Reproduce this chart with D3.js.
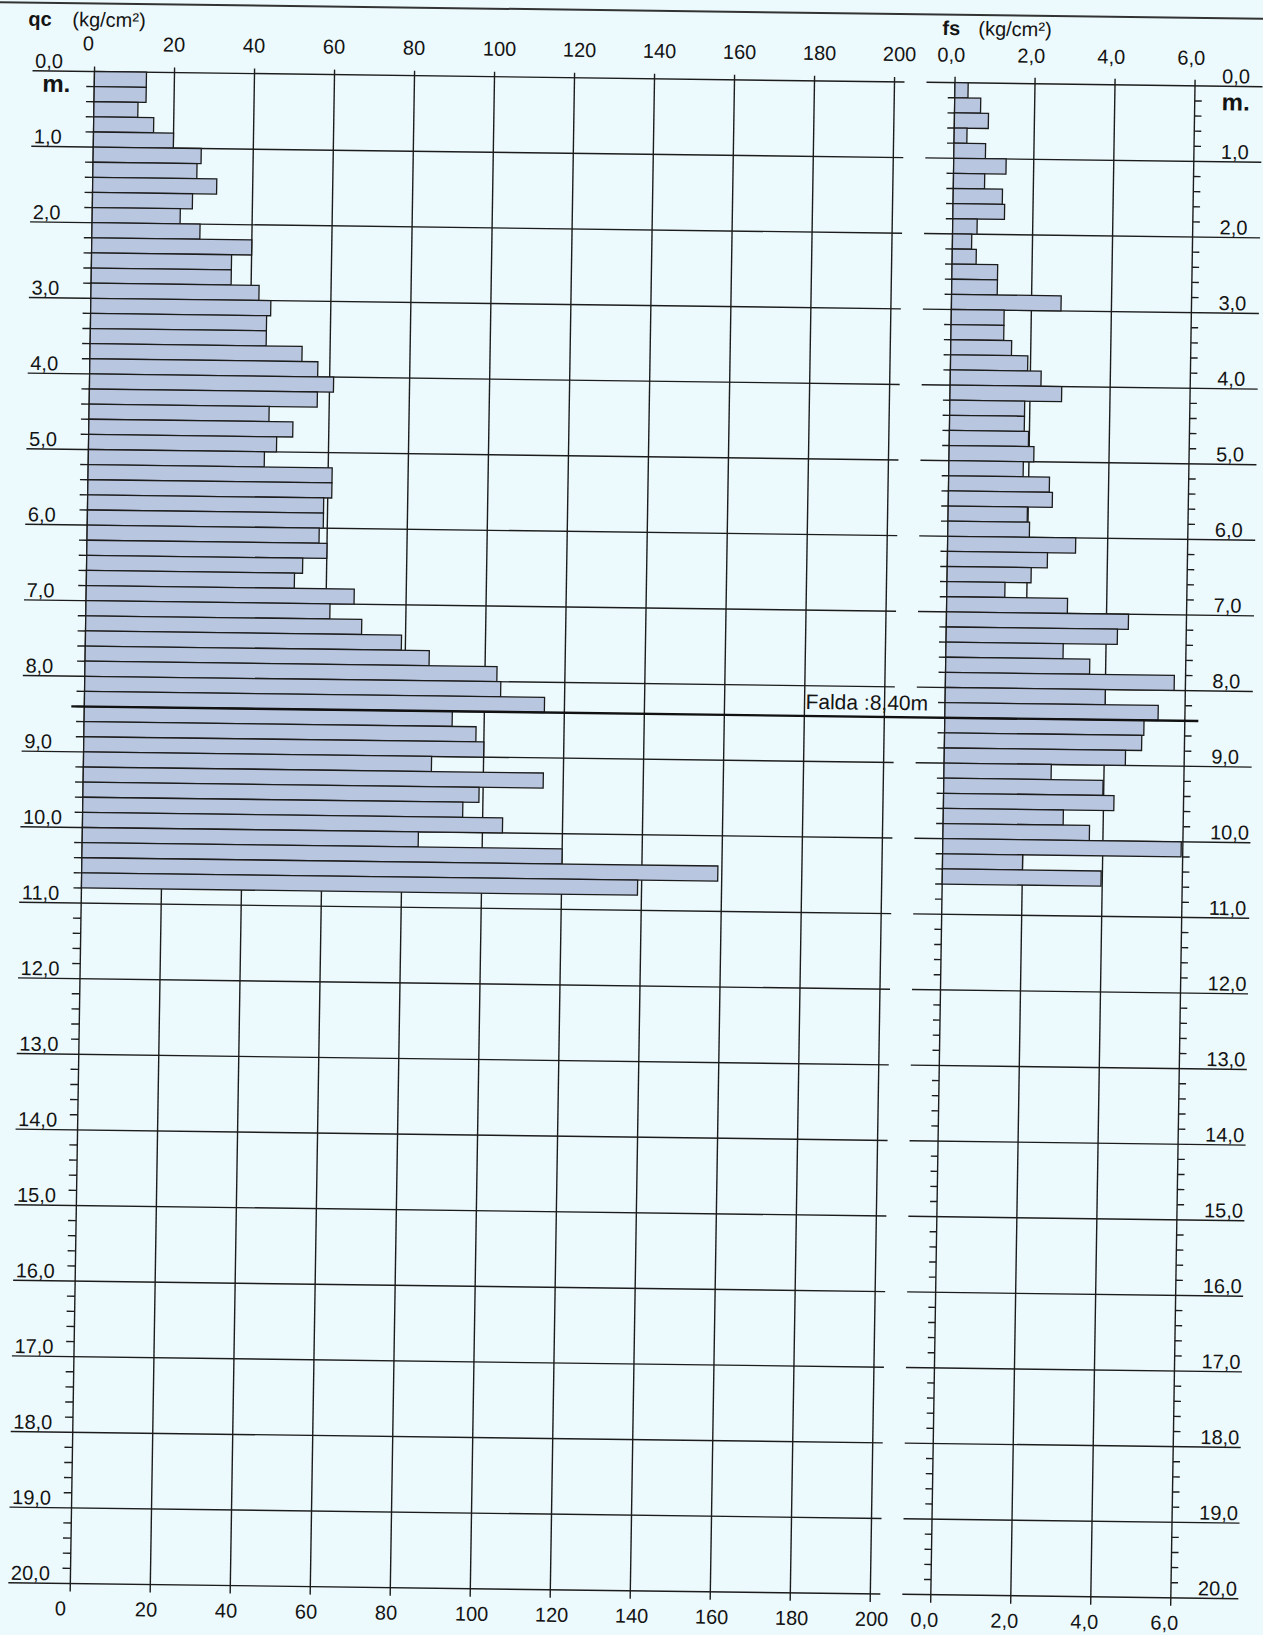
<!DOCTYPE html>
<html>
<head>
<meta charset="utf-8">
<script src="https://cdn.jsdelivr.net/npm/d3@7"></script>
<style>
  html, body { margin: 0; padding: 0; background: #edfafd; }
  svg { display: block; }
  text { font-family: "Liberation Sans", Arial, sans-serif; fill: #141414; }
</style>
</head>
<body>
<svg id="cpt" width="1263" height="1635"></svg>
<script>
// one reading every 0.2 m, starting at 0.0 m
const step = 0.2;
const qcValues = [13, 13, 11, 15, 20, 27, 26, 31, 25, 22,
                  27, 40, 35, 35, 42, 45, 44, 44, 53, 57,
                  61, 57, 45, 51, 47, 44, 61, 61, 59, 59,
                  58, 60, 54, 52, 67, 61, 69, 79, 86, 103,
                  104, 115, 92, 98, 100, 87, 115, 99, 95, 105,
                  84, 120, 159, 139];
const fsValues = [0.33, 0.65, 0.85, 0.32, 0.79, 1.31, 0.78, 1.23, 1.29, 0.61,
                  0.48, 0.6, 1.14, 1.14, 2.74, 1.32, 1.32, 1.52, 1.93, 2.27,
                  2.79, 1.87, 1.87, 1.98, 2.12, 1.86, 2.52, 2.6, 1.98, 2.04,
                  3.2, 2.5, 2.1, 1.45, 3.02, 4.55, 4.28, 2.93, 3.6, 5.72,
                  4.0, 5.33, 4.98, 4.93, 4.53, 2.68, 3.98, 4.26, 3.0, 3.66,
                  5.96, 2.0, 3.97];
const qcTicks = [0, 20, 40, 60, 80, 100, 120, 140, 160, 180, 200];
const fsTicks = [0, 2, 4, 6];
const depthTicks = [0, 1, 2, 3, 4, 5, 6, 7, 8, 9, 10, 11, 12, 13, 14, 15, 16, 17, 18, 19, 20];
const waterDepth = 8.4;
const waterLabel = "Falda :8,40m";

const svg = d3.select("#cpt");
const ink = "#1c1c1c";
const barFill = "#b8c6df";

// the scanned sheet is slightly skewed, so the whole drawing sits in a sheared group
const g = svg.append("g").attr("transform", "matrix(1,0.013,-0.016,1,94.5,71.5)");

const y = d3.scaleLinear().domain([0, 20]).range([0, 1512]);
const xq = d3.scaleLinear().domain([0, 200]).range([0, 800]);
const xf = d3.scaleLinear().domain([0, 6]).range([860.5, 1100.5]);
const fmt = d => d3.format(".1f")(d).replace(".", ",");

// top border
g.append("line").attr("x1", -130).attr("x2", 1220).attr("y1", -68).attr("y2", -68)
    .attr("stroke", "#333").attr("stroke-width", 2);

// grid: qc panel
const grid = g.append("g").attr("stroke", ink).attr("stroke-width", 1.4);
grid.selectAll(".qv").data(qcTicks).enter().append("line")
    .attr("x1", d => xq(d)).attr("x2", d => xq(d))
    .attr("y1", -5).attr("y2", y(20) + 8);
grid.selectAll(".qh").data(depthTicks).enter().append("line")
    .attr("x1", -62).attr("x2", 810)
    .attr("y1", d => y(d)).attr("y2", d => y(d));

// grid: fs panel
grid.selectAll(".fv").data(fsTicks).enter().append("line")
    .attr("x1", d => xf(d)).attr("x2", d => xf(d))
    .attr("y1", -6).attr("y2", y(20) + 8);
grid.selectAll(".fh").data(depthTicks).enter().append("line")
    .attr("x1", 832).attr("x2", 1168)
    .attr("y1", d => y(d)).attr("y2", d => y(d));

// minor ticks every 0.2 m
const minor = d3.range(1, 100).filter(k => k % 5 != 0).map(k => k * step);
grid.selectAll(".mq").data(minor).enter().append("line")
    .attr("x1", xq(0) - 8).attr("x2", xq(0))
    .attr("y1", d => y(d)).attr("y2", d => y(d));
grid.selectAll(".mf").data(minor).enter().append("line")
    .attr("x1", xf(0) - 7).attr("x2", xf(0))
    .attr("y1", d => y(d)).attr("y2", d => y(d));
grid.selectAll(".mr").data(minor).enter().append("line")
    .attr("x1", xf(6)).attr("x2", xf(6) + 7)
    .attr("y1", d => y(d)).attr("y2", d => y(d));

// bars
g.append("g").selectAll("rect").data(qcValues).enter().append("rect")
    .attr("x", xq(0))
    .attr("y", (d, i) => y(i * step))
    .attr("width", d => xq(d) - xq(0))
    .attr("height", y(step) - y(0))
    .attr("fill", barFill).attr("stroke", ink).attr("stroke-width", 1.3);
g.append("g").selectAll("rect").data(fsValues).enter().append("rect")
    .attr("x", xf(0))
    .attr("y", (d, i) => y(i * step))
    .attr("width", d => xf(d) - xf(0))
    .attr("height", y(step) - y(0))
    .attr("fill", barFill).attr("stroke", ink).attr("stroke-width", 1.3);

// water table
g.append("line").attr("x1", -13).attr("x2", 1114)
    .attr("y1", y(waterDepth)).attr("y2", y(waterDepth))
    .attr("stroke", "#111").attr("stroke-width", 2.4);
g.append("text").attr("x", 721).attr("y", y(waterDepth) - 7)
    .attr("font-size", 21).text(waterLabel);

// axis labels
const labels = g.append("g").attr("font-size", 20);
labels.selectAll(".qt").data(qcTicks).enter().append("text")
    .attr("x", d => xq(d) - 12).attr("y", -21).text(d => d);
labels.selectAll(".qb").data(qcTicks).enter().append("text")
    .attr("x", d => xq(d) - 15).attr("y", y(20) + 32).text(d => d);
labels.selectAll(".ft").data(fsTicks).enter().append("text")
    .attr("x", d => xf(d) - 18).attr("y", -21).text(fmt);
labels.selectAll(".fb").data(fsTicks).enter().append("text")
    .attr("x", d => xf(d) - 20).attr("y", y(20) + 32).text(fmt);
labels.selectAll(".dl").data(depthTicks).enter().append("text")
    .attr("x", -59.5).attr("y", d => y(d) - 3).text(fmt);
labels.selectAll(".dr").data(depthTicks).enter().append("text")
    .attr("x", 1127.5).attr("y", d => y(d) - 3).text(fmt);

g.append("text").attr("x", -52).attr("y", 21).attr("font-size", 24)
    .attr("font-weight", "bold").text("m.");
g.append("text").attr("x", 1127.5).attr("y", 24).attr("font-size", 24)
    .attr("font-weight", "bold").text("m.");

// headers
g.append("text").attr("x", -67).attr("y", -45).attr("font-size", 20)
    .attr("font-weight", "bold").text("qc");
g.append("text").attr("x", -23).attr("y", -45).attr("font-size", 20).text("(kg/cm²)");
g.append("text").attr("x", 847).attr("y", -47.5).attr("font-size", 20)
    .attr("font-weight", "bold").text("fs");
g.append("text").attr("x", 883).attr("y", -47.5).attr("font-size", 20).text("(kg/cm²)");
</script>
</body>
</html>
